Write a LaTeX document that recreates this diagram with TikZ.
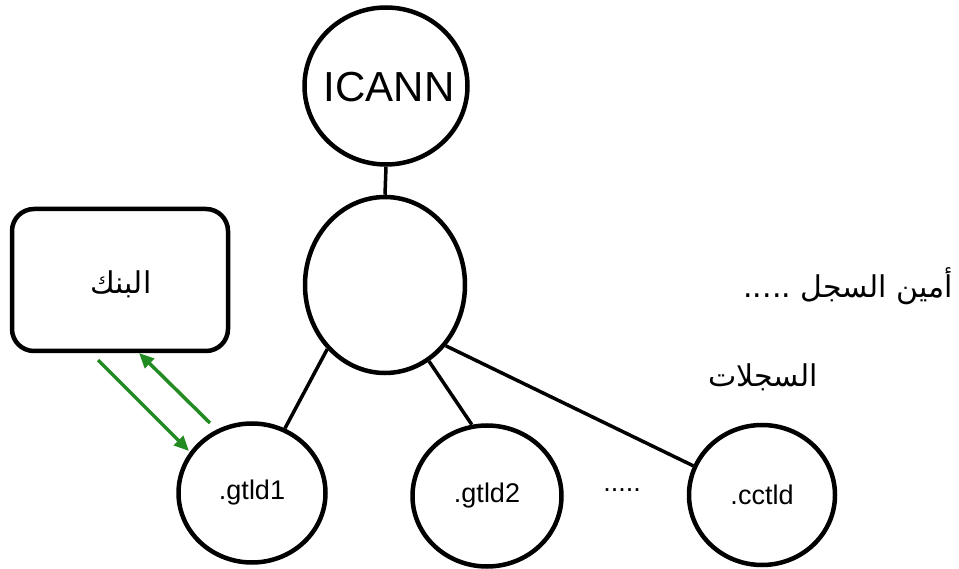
\documentclass[tikz,border=0pt]{standalone}
\usepackage{fontspec}
\setmainfont{Liberation Sans}
\newfontfamily\arabicfont[Script=Arabic]{DejaVu Sans}
\TeXXeTstate=1
\usetikzlibrary{shapes.geometric,arrows.meta}
\definecolor{arrowgreen}{RGB}{34,139,34}
\tikzset{
  oval/.style={ellipse,draw=black,line width=4.5pt,inner sep=0pt,font=\fontsize{27}{32}\selectfont},
  link/.style={draw=black,line width=3.5pt},
  garrow/.style={draw=arrowgreen,line width=3.5pt,-{Triangle[length=15pt,width=13pt]}},
  bankbox/.style={draw=black,line width=4.5pt,rounded corners=22pt,minimum width=216pt,minimum height=142pt,inner sep=0pt},
  artext/.style={font=\arabicfont\fontsize{30}{36}\selectfont,inner sep=0pt}
}
\begin{document}
\begin{tikzpicture}[x=1pt,y=-1pt]
\useasboundingbox (0,0) rectangle (959,569);
\node[oval,minimum width=163pt,minimum height=157pt] (icann) at (386,86) {};
\node[font=\fontsize{42}{48}\selectfont,inner sep=0pt] (icanntxt) at (389,87) {ICANN};
\node[oval,minimum width=160pt,minimum height=176pt] (mid) at (385,285) {};
\node[oval,minimum width=147pt,minimum height=139pt] (g1) at (252,493) {.gtld1};
\node[oval,minimum width=149pt,minimum height=141pt] (g2) at (487,496) {.gtld2};
\node[oval,minimum width=146pt,minimum height=140pt] (cc) at (762,495) {.cctld};
\node[font=\fontsize{27}{32}\selectfont,inner sep=0pt] (dots) at (622,490) {.....};
\node[bankbox] (bank) at (120,280) {};
\node[artext] (banktxt) at (121,284) {\beginR البنك\endR};
\node[artext,anchor=east] (amin) at (953,286) {\beginR أمين السجل .....\endR};
\node[artext,anchor=east] (sijillat) at (818,377) {\beginR السجلات\endR};
\draw[link] (icann.south) -- (mid.north);
\draw[link] (mid.228) -- (g1.63);
\draw[link] (mid.300) -- (g2.102);
\draw[link] (mid.315) -- (cc.157);
\coordinate (a1s) at (98,360);
\coordinate (a1e) at (189,451);
\coordinate (a2s) at (210,423);
\coordinate (a2e) at (139,353);
\draw[garrow] (a1s) -- (a1e);
\draw[garrow] (a2s) -- (a2e);
\end{tikzpicture}
\end{document}
